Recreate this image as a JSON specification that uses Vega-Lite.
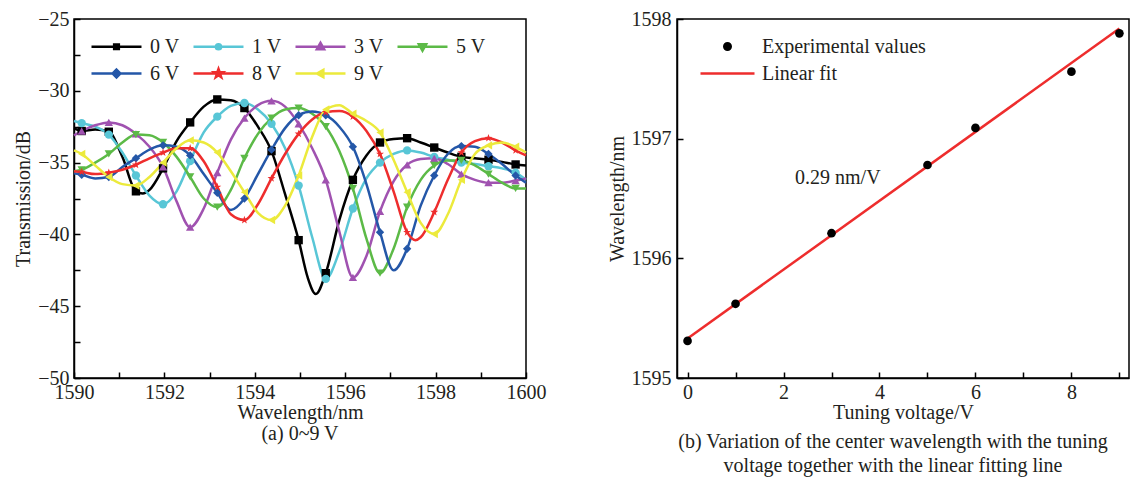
{
  "$schema": "https://vega.github.io/schema/vega-lite/v6.json",
  "padding": {"left": 12, "top": 8, "right": 2, "bottom": 5},
  "background": "white",
  "spacing": 59,
  "datasets": {
    "spec": [
      {"s":"0 V","wl":1590,"dB":-32.6},{"s":"0 V","wl":1590.17,"dB":-32.8},{"s":"0 V","wl":1590.47,"dB":-32.7},{"s":"0 V","wl":1590.77,"dB":-32.85},{"s":"0 V","wl":1591.07,"dB":-34.6},{"s":"0 V","wl":1591.37,"dB":-37.0},{"s":"0 V","wl":1591.52,"dB":-37.15},{"s":"0 V","wl":1591.67,"dB":-36.9},{"s":"0 V","wl":1591.97,"dB":-35.4},{"s":"0 V","wl":1592.27,"dB":-33.5},{"s":"0 V","wl":1592.57,"dB":-32.2},{"s":"0 V","wl":1592.87,"dB":-31.1},{"s":"0 V","wl":1593.17,"dB":-30.6},{"s":"0 V","wl":1593.47,"dB":-30.65},{"s":"0 V","wl":1593.77,"dB":-31.2},{"s":"0 V","wl":1594.07,"dB":-32.5},{"s":"0 V","wl":1594.37,"dB":-34.2},{"s":"0 V","wl":1594.67,"dB":-37.2},{"s":"0 V","wl":1594.97,"dB":-40.4},{"s":"0 V","wl":1595.17,"dB":-43.0},{"s":"0 V","wl":1595.35,"dB":-44.15},{"s":"0 V","wl":1595.57,"dB":-42.7},{"s":"0 V","wl":1595.87,"dB":-39.0},{"s":"0 V","wl":1596.17,"dB":-36.2},{"s":"0 V","wl":1596.47,"dB":-34.5},{"s":"0 V","wl":1596.77,"dB":-33.6},{"s":"0 V","wl":1597.07,"dB":-33.35},{"s":"0 V","wl":1597.37,"dB":-33.3},{"s":"0 V","wl":1597.67,"dB":-33.6},{"s":"0 V","wl":1597.97,"dB":-33.95},{"s":"0 V","wl":1598.27,"dB":-34.3},{"s":"0 V","wl":1598.57,"dB":-34.6},{"s":"0 V","wl":1598.87,"dB":-34.7},{"s":"0 V","wl":1599.17,"dB":-34.8},{"s":"0 V","wl":1599.47,"dB":-34.95},{"s":"0 V","wl":1599.77,"dB":-35.13},{"s":"0 V","wl":1600,"dB":-35.2},

      {"s":"1 V","wl":1590,"dB":-32.1},{"s":"1 V","wl":1590.17,"dB":-32.25},{"s":"1 V","wl":1590.47,"dB":-32.5},{"s":"1 V","wl":1590.77,"dB":-33.05},{"s":"1 V","wl":1591.07,"dB":-34.3},{"s":"1 V","wl":1591.37,"dB":-35.9},{"s":"1 V","wl":1591.67,"dB":-37.3},{"s":"1 V","wl":1591.97,"dB":-37.9},{"s":"1 V","wl":1592.27,"dB":-37.0},{"s":"1 V","wl":1592.57,"dB":-34.9},{"s":"1 V","wl":1592.87,"dB":-32.9},{"s":"1 V","wl":1593.17,"dB":-31.8},{"s":"1 V","wl":1593.47,"dB":-31.05},{"s":"1 V","wl":1593.77,"dB":-30.85},{"s":"1 V","wl":1594.07,"dB":-31.3},{"s":"1 V","wl":1594.37,"dB":-32.3},{"s":"1 V","wl":1594.67,"dB":-34.0},{"s":"1 V","wl":1594.97,"dB":-36.6},{"s":"1 V","wl":1595.27,"dB":-40.2},{"s":"1 V","wl":1595.57,"dB":-43.1},{"s":"1 V","wl":1595.87,"dB":-41.2},{"s":"1 V","wl":1596.17,"dB":-38.2},{"s":"1 V","wl":1596.47,"dB":-36.1},{"s":"1 V","wl":1596.77,"dB":-35.0},{"s":"1 V","wl":1597.07,"dB":-34.4},{"s":"1 V","wl":1597.37,"dB":-34.15},{"s":"1 V","wl":1597.67,"dB":-34.3},{"s":"1 V","wl":1597.97,"dB":-34.6},{"s":"1 V","wl":1598.27,"dB":-34.8},{"s":"1 V","wl":1598.57,"dB":-35.0},{"s":"1 V","wl":1598.87,"dB":-35.1},{"s":"1 V","wl":1599.17,"dB":-35.25},{"s":"1 V","wl":1599.47,"dB":-35.4},{"s":"1 V","wl":1599.77,"dB":-35.7},{"s":"1 V","wl":1600,"dB":-36.2},

      {"s":"3 V","wl":1590,"dB":-33.1},{"s":"3 V","wl":1590.17,"dB":-32.8},{"s":"3 V","wl":1590.47,"dB":-32.4},{"s":"3 V","wl":1590.77,"dB":-32.2},{"s":"3 V","wl":1591.07,"dB":-32.4},{"s":"3 V","wl":1591.37,"dB":-33.0},{"s":"3 V","wl":1591.67,"dB":-33.9},{"s":"3 V","wl":1591.97,"dB":-35.3},{"s":"3 V","wl":1592.27,"dB":-37.7},{"s":"3 V","wl":1592.57,"dB":-39.5},{"s":"3 V","wl":1592.87,"dB":-38.2},{"s":"3 V","wl":1593.17,"dB":-35.7},{"s":"3 V","wl":1593.47,"dB":-33.4},{"s":"3 V","wl":1593.77,"dB":-31.9},{"s":"3 V","wl":1594.07,"dB":-31.0},{"s":"3 V","wl":1594.37,"dB":-30.7},{"s":"3 V","wl":1594.67,"dB":-31.1},{"s":"3 V","wl":1594.97,"dB":-32.3},{"s":"3 V","wl":1595.27,"dB":-34.0},{"s":"3 V","wl":1595.57,"dB":-36.2},{"s":"3 V","wl":1595.87,"dB":-39.8},{"s":"3 V","wl":1596.17,"dB":-43.0},{"s":"3 V","wl":1596.47,"dB":-41.5},{"s":"3 V","wl":1596.77,"dB":-38.4},{"s":"3 V","wl":1597.07,"dB":-36.3},{"s":"3 V","wl":1597.37,"dB":-35.15},{"s":"3 V","wl":1597.67,"dB":-34.75},{"s":"3 V","wl":1597.97,"dB":-34.7},{"s":"3 V","wl":1598.27,"dB":-35.1},{"s":"3 V","wl":1598.57,"dB":-35.8},{"s":"3 V","wl":1598.87,"dB":-36.2},{"s":"3 V","wl":1599.17,"dB":-36.4},{"s":"3 V","wl":1599.47,"dB":-36.4},{"s":"3 V","wl":1599.77,"dB":-36.25},{"s":"3 V","wl":1600,"dB":-36.1},

      {"s":"5 V","wl":1590,"dB":-35.6},{"s":"5 V","wl":1590.17,"dB":-35.5},{"s":"5 V","wl":1590.47,"dB":-35.0},{"s":"5 V","wl":1590.77,"dB":-34.4},{"s":"5 V","wl":1591.07,"dB":-33.6},{"s":"5 V","wl":1591.37,"dB":-33.05},{"s":"5 V","wl":1591.67,"dB":-33.1},{"s":"5 V","wl":1591.97,"dB":-33.6},{"s":"5 V","wl":1592.27,"dB":-34.6},{"s":"5 V","wl":1592.57,"dB":-36.0},{"s":"5 V","wl":1592.87,"dB":-37.5},{"s":"5 V","wl":1593.17,"dB":-38.1},{"s":"5 V","wl":1593.47,"dB":-36.9},{"s":"5 V","wl":1593.77,"dB":-34.7},{"s":"5 V","wl":1594.07,"dB":-33.0},{"s":"5 V","wl":1594.37,"dB":-31.9},{"s":"5 V","wl":1594.67,"dB":-31.3},{"s":"5 V","wl":1594.97,"dB":-31.2},{"s":"5 V","wl":1595.27,"dB":-31.6},{"s":"5 V","wl":1595.57,"dB":-32.5},{"s":"5 V","wl":1595.87,"dB":-34.2},{"s":"5 V","wl":1596.17,"dB":-36.8},{"s":"5 V","wl":1596.47,"dB":-40.3},{"s":"5 V","wl":1596.77,"dB":-42.7},{"s":"5 V","wl":1597.07,"dB":-41.0},{"s":"5 V","wl":1597.37,"dB":-38.1},{"s":"5 V","wl":1597.67,"dB":-36.2},{"s":"5 V","wl":1597.97,"dB":-35.2},{"s":"5 V","wl":1598.27,"dB":-34.85},{"s":"5 V","wl":1598.57,"dB":-34.85},{"s":"5 V","wl":1598.87,"dB":-35.2},{"s":"5 V","wl":1599.17,"dB":-35.8},{"s":"5 V","wl":1599.47,"dB":-36.4},{"s":"5 V","wl":1599.77,"dB":-36.8},{"s":"5 V","wl":1600,"dB":-36.8},

      {"s":"6 V","wl":1590,"dB":-35.75},{"s":"6 V","wl":1590.17,"dB":-35.85},{"s":"6 V","wl":1590.47,"dB":-36.1},{"s":"6 V","wl":1590.77,"dB":-36.0},{"s":"6 V","wl":1591.07,"dB":-35.3},{"s":"6 V","wl":1591.37,"dB":-34.7},{"s":"6 V","wl":1591.67,"dB":-34.1},{"s":"6 V","wl":1591.97,"dB":-33.8},{"s":"6 V","wl":1592.27,"dB":-33.9},{"s":"6 V","wl":1592.57,"dB":-34.5},{"s":"6 V","wl":1592.87,"dB":-35.8},{"s":"6 V","wl":1593.17,"dB":-37.1},{"s":"6 V","wl":1593.47,"dB":-38.3},{"s":"6 V","wl":1593.77,"dB":-37.5},{"s":"6 V","wl":1594.07,"dB":-35.8},{"s":"6 V","wl":1594.37,"dB":-34.1},{"s":"6 V","wl":1594.67,"dB":-32.6},{"s":"6 V","wl":1594.97,"dB":-31.7},{"s":"6 V","wl":1595.27,"dB":-31.45},{"s":"6 V","wl":1595.57,"dB":-31.7},{"s":"6 V","wl":1595.87,"dB":-32.5},{"s":"6 V","wl":1596.17,"dB":-33.9},{"s":"6 V","wl":1596.47,"dB":-36.5},{"s":"6 V","wl":1596.77,"dB":-39.85},{"s":"6 V","wl":1597.07,"dB":-42.5},{"s":"6 V","wl":1597.37,"dB":-41.0},{"s":"6 V","wl":1597.67,"dB":-38.0},{"s":"6 V","wl":1597.97,"dB":-35.9},{"s":"6 V","wl":1598.27,"dB":-34.4},{"s":"6 V","wl":1598.57,"dB":-33.85},{"s":"6 V","wl":1598.87,"dB":-33.9},{"s":"6 V","wl":1599.17,"dB":-34.4},{"s":"6 V","wl":1599.47,"dB":-35.1},{"s":"6 V","wl":1599.77,"dB":-35.9},{"s":"6 V","wl":1600,"dB":-36.4},

      {"s":"8 V","wl":1590,"dB":-35.6},{"s":"8 V","wl":1590.17,"dB":-35.65},{"s":"8 V","wl":1590.47,"dB":-35.8},{"s":"8 V","wl":1590.77,"dB":-35.7},{"s":"8 V","wl":1591.07,"dB":-35.5},{"s":"8 V","wl":1591.37,"dB":-35.15},{"s":"8 V","wl":1591.67,"dB":-34.7},{"s":"8 V","wl":1591.97,"dB":-34.3},{"s":"8 V","wl":1592.27,"dB":-34.0},{"s":"8 V","wl":1592.57,"dB":-34.0},{"s":"8 V","wl":1592.87,"dB":-34.9},{"s":"8 V","wl":1593.17,"dB":-36.7},{"s":"8 V","wl":1593.47,"dB":-38.6},{"s":"8 V","wl":1593.77,"dB":-39.0},{"s":"8 V","wl":1594.07,"dB":-37.9},{"s":"8 V","wl":1594.37,"dB":-36.1},{"s":"8 V","wl":1594.67,"dB":-34.4},{"s":"8 V","wl":1594.97,"dB":-33.0},{"s":"8 V","wl":1595.27,"dB":-32.0},{"s":"8 V","wl":1595.57,"dB":-31.5},{"s":"8 V","wl":1595.87,"dB":-31.4},{"s":"8 V","wl":1596.17,"dB":-31.8},{"s":"8 V","wl":1596.47,"dB":-32.8},{"s":"8 V","wl":1596.77,"dB":-34.4},{"s":"8 V","wl":1597.07,"dB":-37.0},{"s":"8 V","wl":1597.37,"dB":-39.85},{"s":"8 V","wl":1597.55,"dB":-40.4},{"s":"8 V","wl":1597.67,"dB":-40.2},{"s":"8 V","wl":1597.97,"dB":-38.45},{"s":"8 V","wl":1598.27,"dB":-36.2},{"s":"8 V","wl":1598.57,"dB":-34.3},{"s":"8 V","wl":1598.87,"dB":-33.5},{"s":"8 V","wl":1599.17,"dB":-33.3},{"s":"8 V","wl":1599.47,"dB":-33.6},{"s":"8 V","wl":1599.77,"dB":-34.15},{"s":"8 V","wl":1600,"dB":-34.5},

      {"s":"9 V","wl":1590,"dB":-34.15},{"s":"9 V","wl":1590.17,"dB":-34.4},{"s":"9 V","wl":1590.47,"dB":-35.2},{"s":"9 V","wl":1590.77,"dB":-36.0},{"s":"9 V","wl":1591.07,"dB":-36.5},{"s":"9 V","wl":1591.37,"dB":-36.6},{"s":"9 V","wl":1591.67,"dB":-36.0},{"s":"9 V","wl":1591.97,"dB":-35.0},{"s":"9 V","wl":1592.27,"dB":-34.0},{"s":"9 V","wl":1592.57,"dB":-33.45},{"s":"9 V","wl":1592.87,"dB":-33.6},{"s":"9 V","wl":1593.17,"dB":-34.3},{"s":"9 V","wl":1593.47,"dB":-35.6},{"s":"9 V","wl":1593.77,"dB":-37.06},{"s":"9 V","wl":1594.07,"dB":-38.5},{"s":"9 V","wl":1594.37,"dB":-39.0},{"s":"9 V","wl":1594.67,"dB":-38.0},{"s":"9 V","wl":1594.97,"dB":-35.9},{"s":"9 V","wl":1595.27,"dB":-33.2},{"s":"9 V","wl":1595.57,"dB":-31.3},{"s":"9 V","wl":1595.87,"dB":-31.0},{"s":"9 V","wl":1596.17,"dB":-31.6},{"s":"9 V","wl":1596.47,"dB":-32.1},{"s":"9 V","wl":1596.77,"dB":-32.9},{"s":"9 V","wl":1597.07,"dB":-34.8},{"s":"9 V","wl":1597.37,"dB":-37.06},{"s":"9 V","wl":1597.67,"dB":-39.2},{"s":"9 V","wl":1597.97,"dB":-39.97},{"s":"9 V","wl":1598.27,"dB":-38.6},{"s":"9 V","wl":1598.57,"dB":-36.2},{"s":"9 V","wl":1598.87,"dB":-34.4},{"s":"9 V","wl":1599.17,"dB":-33.8},{"s":"9 V","wl":1599.47,"dB":-33.6},{"s":"9 V","wl":1599.77,"dB":-33.9},{"s":"9 V","wl":1600,"dB":-34.3}
    ],
    "exp": [
      {"V":0,"wl":1595.31},{"V":1,"wl":1595.62},{"V":3,"wl":1596.21},{"V":5,"wl":1596.78},{"V":6,"wl":1597.09},{"V":8,"wl":1597.56},{"V":9,"wl":1597.88}
    ],
    "fit": [
      {"V":0,"wl":1595.33},{"V":9,"wl":1597.92}
    ],
    "note": [
      {"V":2.24,"wl":1596.67,"label":"0.29 nm/V"}
    ]
  },
  "hconcat": [
    {
      "width": 452,
      "height": 359,
      "title": {"text": "(a) 0~9 V", "orient": "bottom", "anchor": "middle", "frame": "group", "offset": 2},
      "encoding": {
        "x": {"field": "wl", "type": "quantitative",
          "scale": {"domain": [1590, 1600], "nice": false, "zero": false},
          "axis": {"title": "Wavelength/nm", "values": [1590,1591,1592,1593,1594,1595,1596,1597,1598,1599,1600],
            "labelExpr": "datum.value % 2 == 0 ? datum.label : ''", "format": "d", "labelFlush": false, "labelOverlap": false, "labelPadding": 10, "titlePadding": 0}},
        "y": {"field": "dB", "type": "quantitative",
          "scale": {"domain": [-50, -25], "nice": false, "zero": false},
          "axis": {"title": "Transmission/dB", "values": [-50,-47.5,-45,-42.5,-40,-37.5,-35,-32.5,-30,-27.5,-25],
            "labelExpr": "datum.value % 5 == 0 ? datum.label : ''", "labelOverlap": false, "labelFlush": false, "labelPadding": 11, "titlePadding": 4}}
      },
      "layer": [
        {
          "data": {"name": "spec"},
          "mark": {"type": "line", "interpolate": "monotone", "strokeWidth": 2.5},
          "encoding": {
            "detail": {"field": "s"},
            "color": {"field": "s", "type": "nominal",
              "scale": {"domain": ["0 V","1 V","3 V","5 V","6 V","8 V","9 V"], "range": ["#000000","#58c6d6","#a052b0","#5cba47","#2457a8","#ee2d2d","#ecea3c"]},
              "legend": {
                "orient": "none", "legendX": 16, "legendY": 13, "direction": "horizontal", "columns": 4,
                "title": null, "symbolSize": 676, "symbolStrokeWidth": 2.5, "labelOffset": 31, "columnPadding": 8, "rowPadding": 2, "padding": 0,
                "labelFontSize": 20, "labelFont": "Liberation Serif", "labelColor": "#231f20", "symbolOpacity": 1,
                "symbolType": {"expr": "['M-1,0H2.846M0.743,-0.18H1.103V0.18H0.743Z','M-1,0H2.846M0.723,0A0.2,0.2 0 1,0 1.123,0A0.2,0.2 0 1,0 0.723,0Z','M-1,0H2.846M0.923,-0.3L1.203,0.2H0.643Z','M-1,0H2.846M0.923,0.3L1.203,-0.2H0.643Z','M-1,0H2.846M0.923,-0.3L1.223,0L0.923,0.3L0.623,0Z','M-1,0H2.846M0.923,-0.35L1.005,-0.113L1.256,-0.108L1.056,0.043L1.129,0.283L0.923,0.14L0.717,0.283L0.79,0.043L0.59,-0.108L0.841,-0.113Z','M-1,0H2.846M0.643,0L1.143,-0.28V0.28Z'][indexof(['0 V','1 V','3 V','5 V','6 V','8 V','9 V'], datum.value)]"},
                "symbolFillColor": {"expr": "['#000000','#58c6d6','#a052b0','#5cba47','#2457a8','#ee2d2d','#ecea3c'][indexof(['0 V','1 V','3 V','5 V','6 V','8 V','9 V'], datum.value)]"}
              }
            }
          }
        },
        {
          "data": {"name": "spec"},
          "transform": [{"filter": {"field": "wl", "oneOf": [1590.17,1590.77,1591.37,1591.97,1592.57,1593.17,1593.77,1594.37,1594.97,1595.57,1596.17,1596.77,1597.37,1597.97,1598.57,1599.17,1599.77]}}],
          "mark": {"type": "point", "filled": true, "opacity": 1, "size": 70},
          "encoding": {
            "color": {"field": "s", "type": "nominal", "legend": null},
            "shape": {"field": "s", "type": "nominal", "legend": null,
              "scale": {"domain": ["9 V","8 V","6 V","5 V","3 V","1 V","0 V"], "range": ["triangle-left","M0,-1L0.235,-0.324L0.951,-0.309L0.38,0.124L0.588,0.809L0,0.4L-0.588,0.809L-0.38,0.124L-0.951,-0.309L-0.235,-0.324Z","diamond","triangle-down","triangle-up","circle","square"]}}
          }
        }
      ]
    },
    {
      "width": 452,
      "height": 359,
      "title": {"text": ["(b) Variation of the center wavelength with the tuning", "voltage together with the linear fitting line"], "orient": "bottom", "anchor": "middle", "frame": "group", "offset": 10, "dx": -10, "lineHeight": 24},
      "encoding": {
        "x": {"field": "V", "type": "quantitative",
          "scale": {"domain": [-0.22, 9.2], "nice": false, "zero": false},
          "axis": {"title": "Tuning voltage/V", "values": [0,1,2,3,4,5,6,7,8,9],
            "labelExpr": "datum.value % 2 == 0 ? datum.label : ''", "labelFlush": false, "labelOverlap": false, "labelPadding": 10, "titlePadding": 0}},
        "y": {"field": "wl", "type": "quantitative",
          "scale": {"domain": [1595, 1598], "nice": false, "zero": false},
          "axis": {"title": "Wavelength/nm", "values": [1595,1595.5,1596,1596.5,1597,1597.5,1598],
            "labelExpr": "datum.value % 1 == 0 ? datum.label : ''", "format": "d", "labelOverlap": false, "labelFlush": false, "labelPadding": 12, "titlePadding": 4}}
      },
      "layer": [
        {
          "data": {"name": "fit"},
          "mark": {"type": "line", "strokeWidth": 2.5},
          "encoding": {
            "color": {"datum": "Linear fit", "type": "nominal",
              "scale": {"domain": ["Experimental values", "Linear fit"], "range": ["#000000", "#ee2d2d"]},
              "legend": {
                "orient": "none", "legendX": 22, "legendY": 13, "direction": "vertical",
                "title": null, "symbolSize": 676, "symbolStrokeWidth": 2.5, "labelOffset": 34, "rowPadding": 2, "padding": 0, "labelLimit": 400,
                "labelFontSize": 20, "labelFont": "Liberation Serif", "labelColor": "#231f20", "symbolOpacity": 1,
                "symbolType": {"expr": "datum.value == 'Linear fit' ? 'M-1,0H3.154' : 'M0.827,0A0.25,0.25 0 1,0 1.327,0A0.25,0.25 0 1,0 0.827,0Z'"},
                "symbolFillColor": {"expr": "datum.value == 'Linear fit' ? '#ee2d2d' : '#000000'"}
              }
            }
          }
        },
        {
          "data": {"name": "exp"},
          "mark": {"type": "point", "filled": true, "opacity": 1, "size": 75, "shape": "circle"},
          "encoding": {
            "color": {"datum": "Experimental values", "type": "nominal", "legend": null}
          }
        },
        {
          "data": {"name": "note"},
          "mark": {"type": "text", "align": "left", "baseline": "middle", "fontSize": 20, "font": "Liberation Serif", "color": "#231f20"},
          "encoding": {"text": {"field": "label"}}
        }
      ]
    }
  ],
  "resolve": {"scale": {"color": "independent", "shape": "independent"}, "legend": {"color": "independent", "shape": "independent"}},
  "config": {
    "font": "Liberation Serif",
    "view": {"stroke": "#000000", "strokeWidth": 1.5},
    "axis": {
      "grid": false, "domainColor": "#000000", "domainWidth": 1.5, "tickColor": "#000000", "tickWidth": 1.5, "tickSize": -6,
      "labelFont": "Liberation Serif", "labelFontSize": 20, "labelColor": "#231f20",
      "titleFont": "Liberation Serif", "titleFontSize": 20, "titleFontWeight": "normal", "titleColor": "#231f20"
    },
    "title": {"font": "Liberation Serif", "fontSize": 20, "fontWeight": "normal", "color": "#231f20"}
  }
}
